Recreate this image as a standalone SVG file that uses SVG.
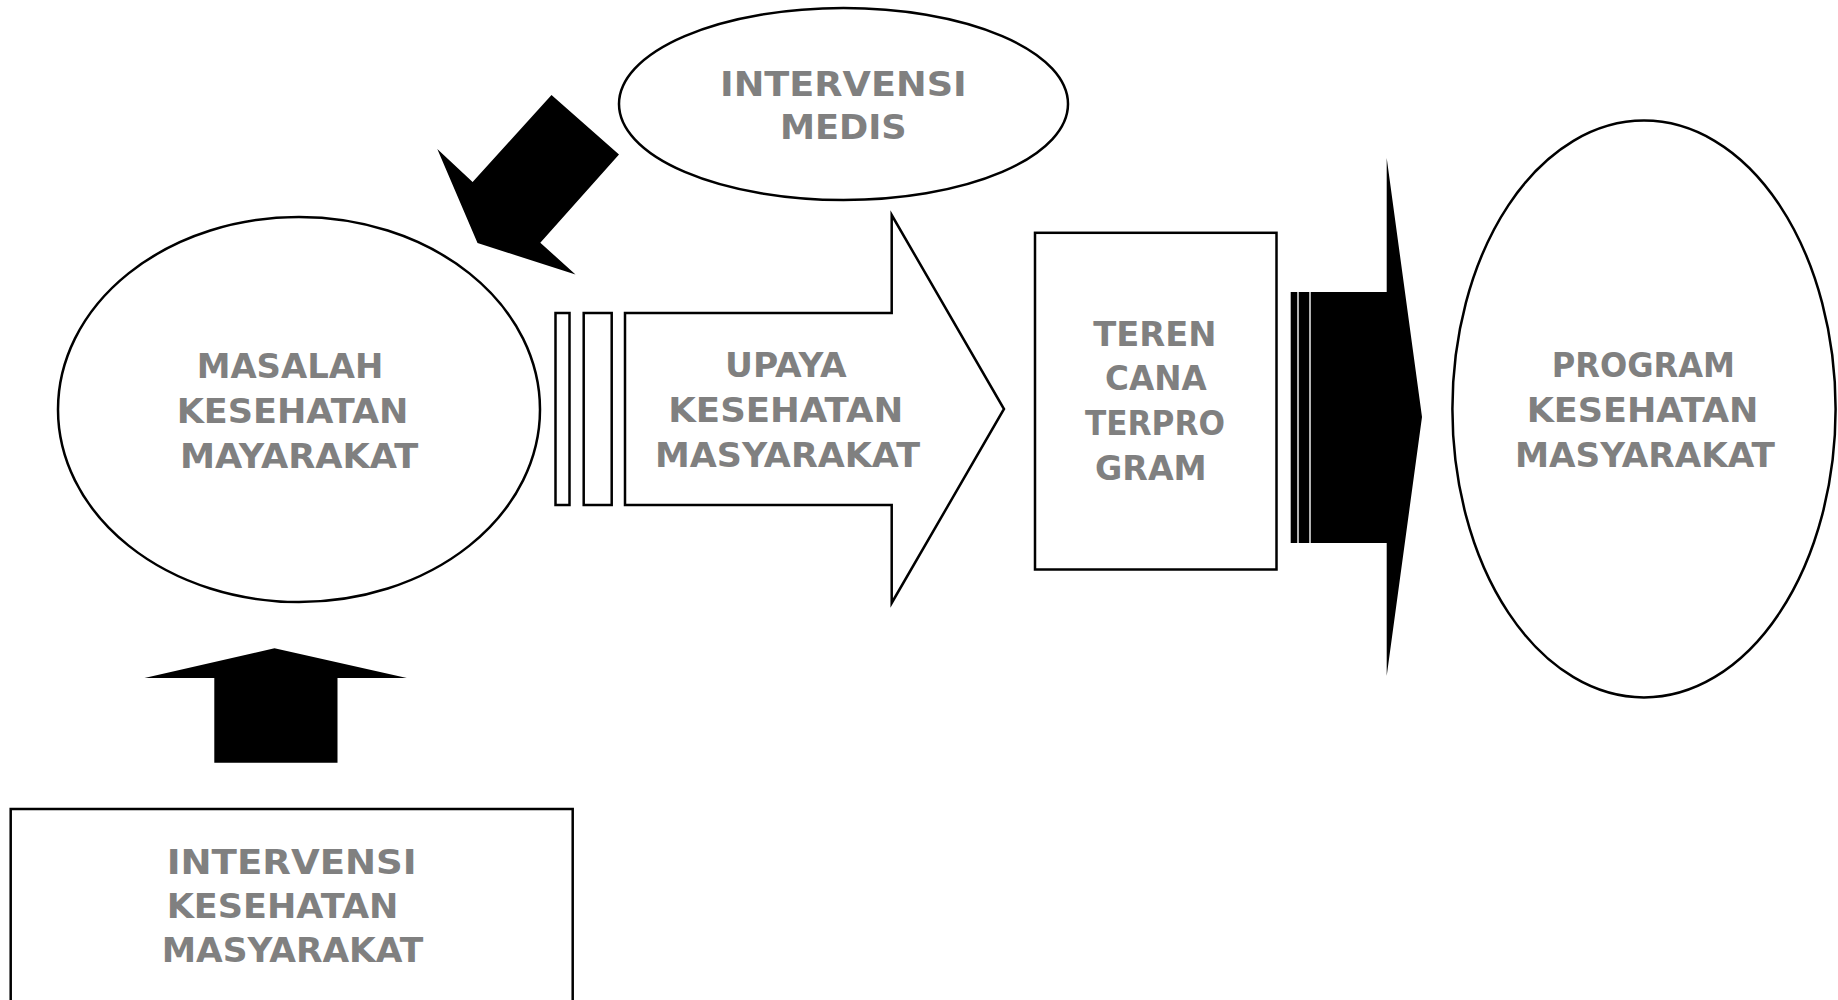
<svg xmlns="http://www.w3.org/2000/svg" width="1838" height="1000" viewBox="0 0 1838 1000">
<style>
.shape{fill:#ffffff;stroke:#000000;stroke-width:2.5}
.blk{fill:#000000;stroke:none}
.lbl{font-family:"DejaVu Sans","Liberation Sans",sans-serif;font-weight:bold;font-size:34px;fill:#808080}
</style>
<rect x="0" y="0" width="1838" height="1000" fill="#ffffff"/>
<g id="connectors">
  <polygon id="arrow-medis" class="blk" points="551.5,95 619,154.5 540.3,242.7 575.5,274.5 477.5,243 437.3,149 472.6,182"/>
  <polygon id="arrow-up" class="blk" points="274.5,648.3 406.8,678 337.5,678 337.5,762.7 214.3,762.7 214.3,678 144.5,678"/>
  <g id="arrow-program">
    <rect class="blk" x="1290.7" y="292" width="6.6" height="251"/>
    <rect class="blk" x="1298.7" y="292" width="10.6" height="251"/>
    <polygon class="blk" points="1310.7,292 1386.7,292 1386.7,158 1422,417 1386.7,676 1386.7,543 1310.7,543"/>
  </g>
</g>
<g id="node-masalah">
  <ellipse class="shape" cx="299" cy="409.5" rx="241" ry="192.5"/>
  <text class="lbl" x="196.7" y="377.5" textLength="186.7" lengthAdjust="spacingAndGlyphs">MASALAH</text>
  <text class="lbl" x="176.7" y="423" textLength="231.7" lengthAdjust="spacingAndGlyphs">KESEHATAN</text>
  <text class="lbl" x="180" y="467.5" textLength="238.3" lengthAdjust="spacingAndGlyphs">MAYARAKAT</text>
</g>
<g id="node-medis">
  <ellipse class="shape" cx="843.5" cy="104" rx="224.5" ry="96"/>
  <text class="lbl" x="720" y="95.5" textLength="246.7" lengthAdjust="spacingAndGlyphs">INTERVENSI</text>
  <text class="lbl" x="780" y="139" textLength="126.7" lengthAdjust="spacingAndGlyphs">MEDIS</text>
</g>
<g id="node-upaya">
  <rect class="shape" x="555.5" y="313" width="14" height="192"/>
  <rect class="shape" x="583.7" y="313" width="28" height="192"/>
  <polygon class="shape" points="625,313 891.7,313 891.7,215 1004,409 891.7,603 891.7,505 625,505"/>
  <text class="lbl" x="725" y="377" textLength="121.7" lengthAdjust="spacingAndGlyphs">UPAYA</text>
  <text class="lbl" x="668.3" y="422" textLength="235" lengthAdjust="spacingAndGlyphs">KESEHATAN</text>
  <text class="lbl" x="655" y="467" textLength="265" lengthAdjust="spacingAndGlyphs">MASYARAKAT</text>
</g>
<g id="node-terencana">
  <rect class="shape" x="1035" y="232.8" width="241.5" height="336.7"/>
  <text class="lbl" x="1093.3" y="346" textLength="123.3" lengthAdjust="spacingAndGlyphs">TEREN</text>
  <text class="lbl" x="1105" y="390" textLength="101.7" lengthAdjust="spacingAndGlyphs">CANA</text>
  <text class="lbl" x="1085" y="434.5" textLength="140" lengthAdjust="spacingAndGlyphs">TERPRO</text>
  <text class="lbl" x="1095" y="479.5" textLength="111.7" lengthAdjust="spacingAndGlyphs">GRAM</text>
</g>
<g id="node-program">
  <ellipse class="shape" cx="1644" cy="409" rx="191.6" ry="288.4"/>
  <text class="lbl" x="1551.7" y="377" textLength="183.3" lengthAdjust="spacingAndGlyphs">PROGRAM</text>
  <text class="lbl" x="1526.7" y="422" textLength="231.7" lengthAdjust="spacingAndGlyphs">KESEHATAN</text>
  <text class="lbl" x="1515" y="466.5" textLength="260" lengthAdjust="spacingAndGlyphs">MASYARAKAT</text>
</g>
<g id="node-intervensi-kesmas">
  <rect class="shape" x="10.7" y="809" width="562" height="220"/>
  <text class="lbl" x="166.7" y="873.5" textLength="250" lengthAdjust="spacingAndGlyphs">INTERVENSI</text>
  <text class="lbl" x="166.7" y="918" textLength="231.7" lengthAdjust="spacingAndGlyphs">KESEHATAN</text>
  <text class="lbl" x="161.7" y="962" textLength="261.7" lengthAdjust="spacingAndGlyphs">MASYARAKAT</text>
</g>
</svg>
